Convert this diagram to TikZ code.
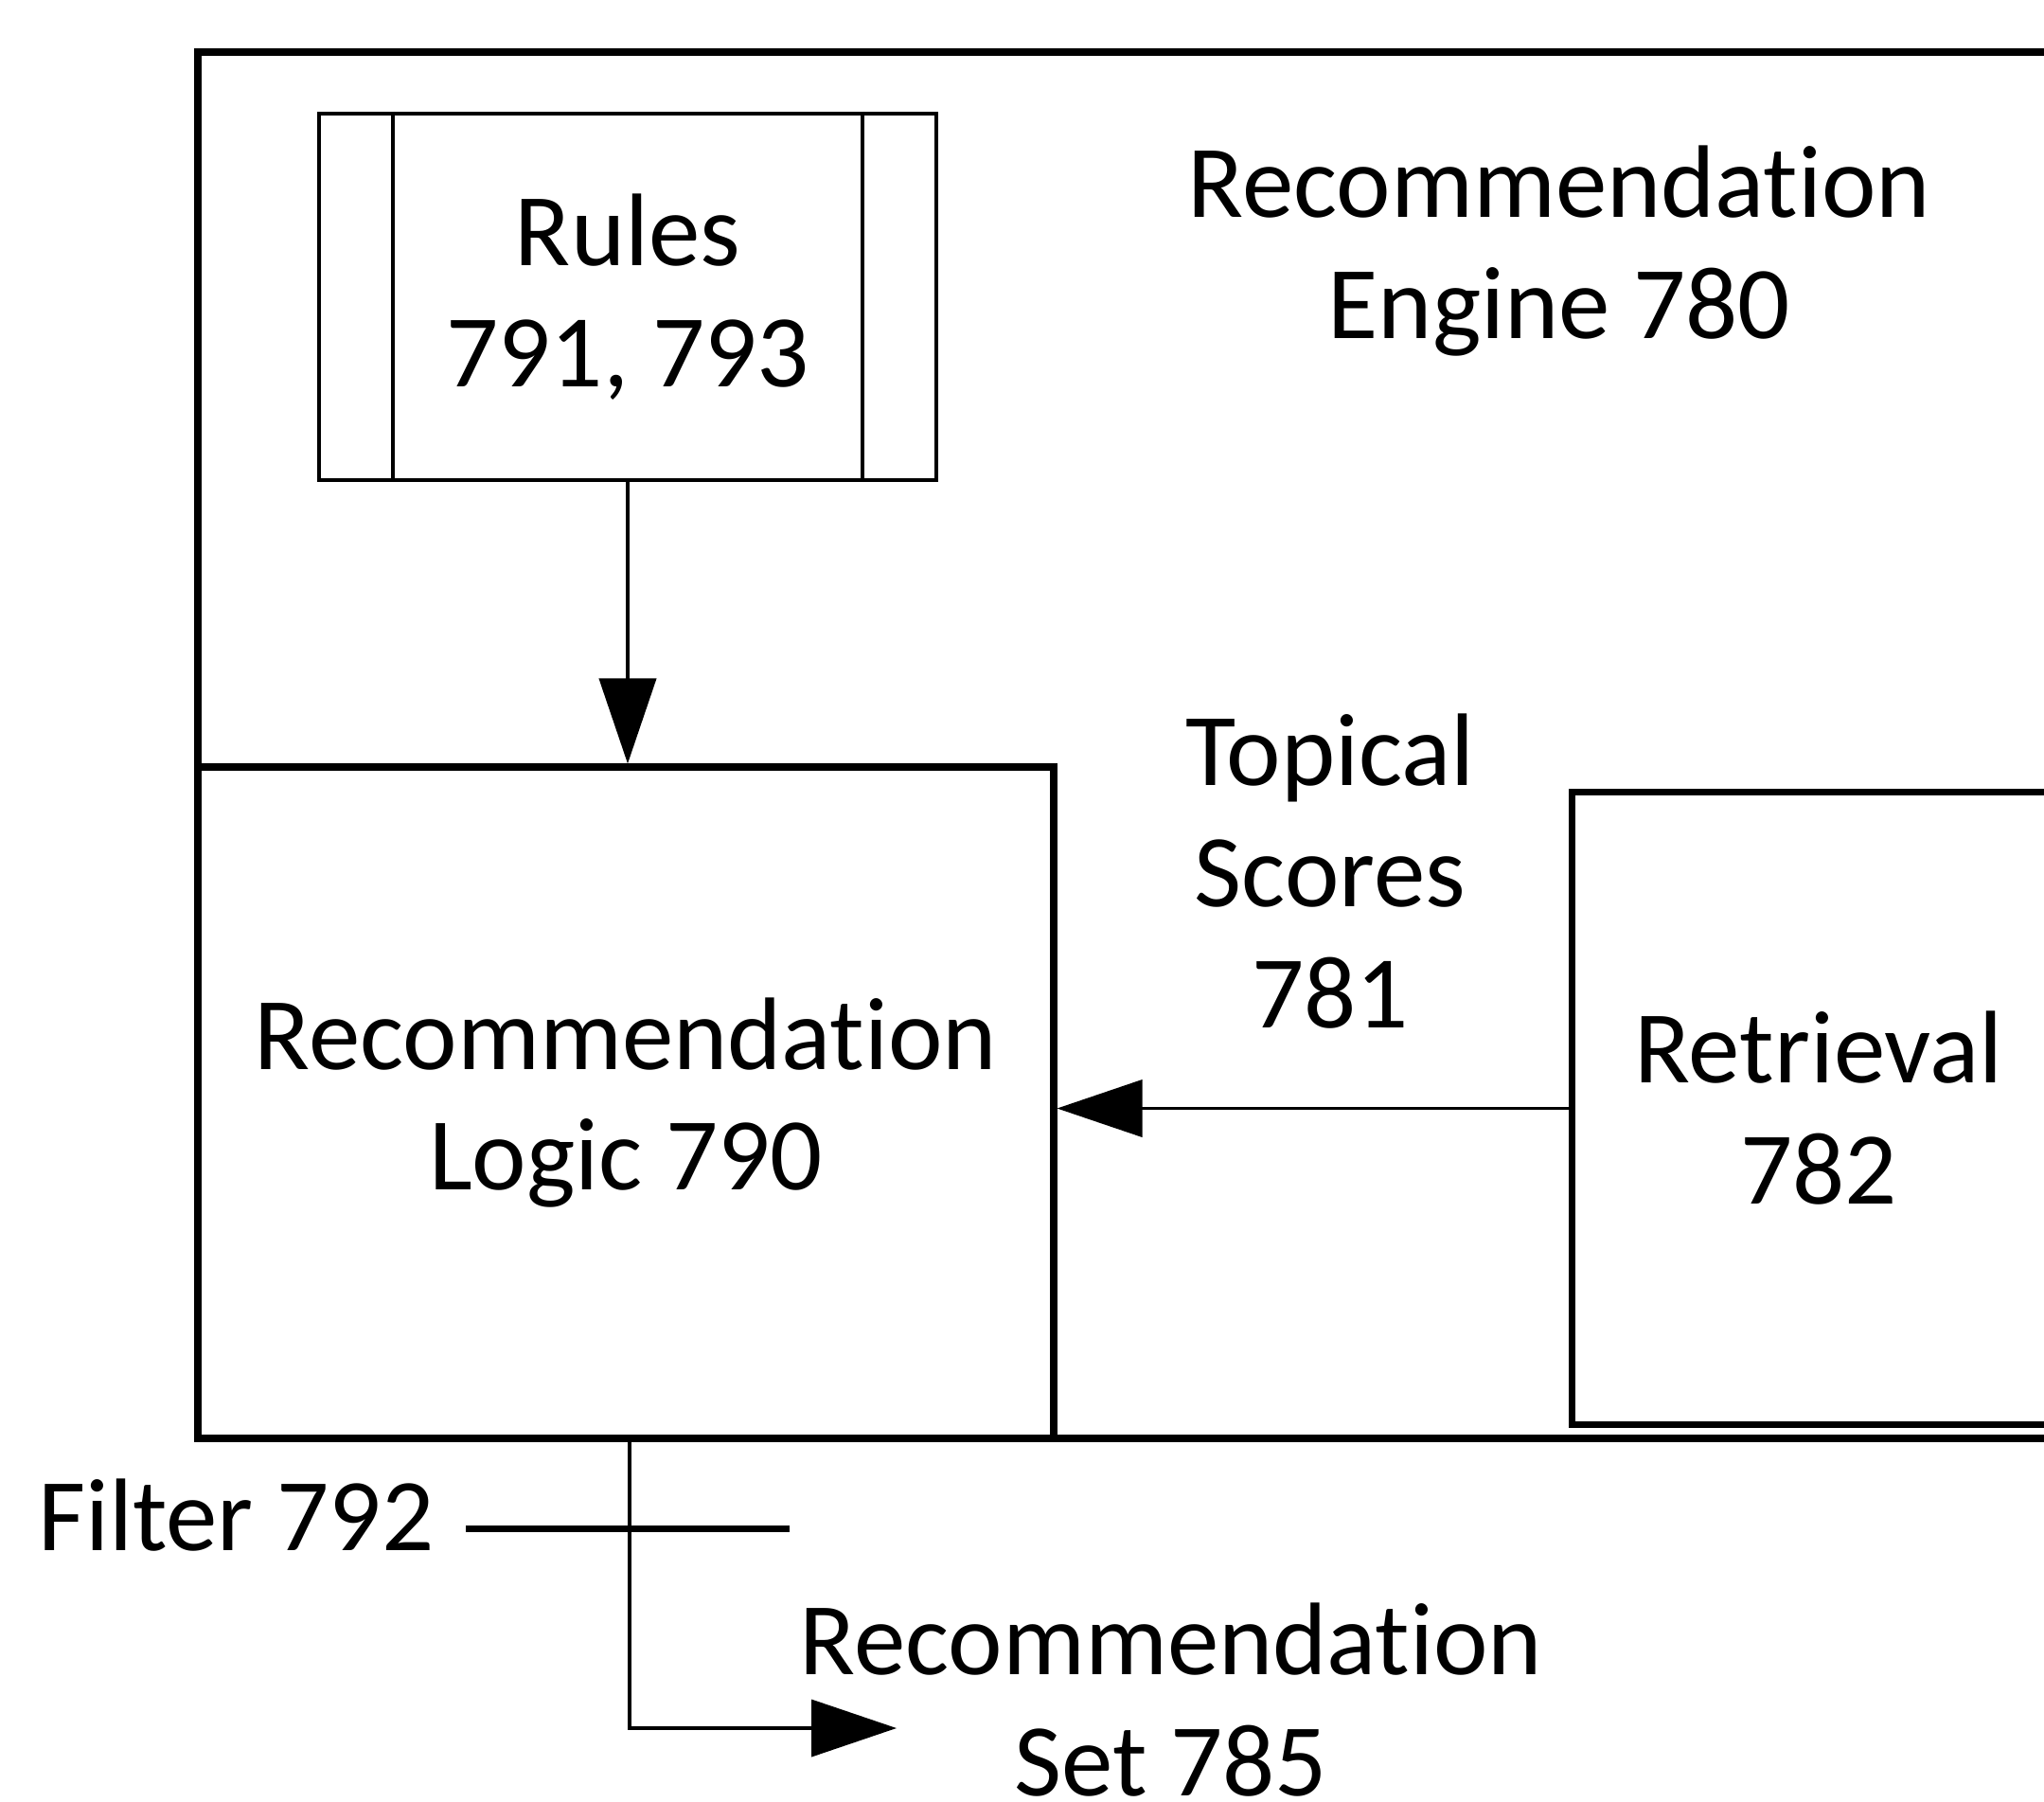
\documentclass[tikz,border=0pt]{standalone}
\usepackage{fontspec}
\setmainfont[Ligatures=NoCommon]{Carlito}
\usetikzlibrary{arrows.meta}

\begin{document}
\begin{tikzpicture}[
    txt/.style={inner sep=0pt, align=center, font=\fontsize{31}{36.4}\selectfont},
    blk/.style={draw, line width=2pt, inner sep=0pt},
    feed/.style={line width=1.1pt, -{Triangle[length=0.9cm,width=0.6cm]}}
  ]
  \useasboundingbox (0,0) rectangle (21.59,-19.02);
  \clip (0,0) rectangle (21.59,-19.02);
  %\draw[very thin,color=gray,step=1] (0,-19) grid (21,0);
  \draw[line width=2.3pt] (2.09,-0.55) rectangle (23,-15.19);
  \node[txt] (engine) at (16.47,-2.65) {Recommendation\\Engine 780};
  \node[blk, txt, line width=1.2pt, minimum width=6.52cm, minimum height=3.87cm] (rules) at (6.63,-3.135) {Rules\\791, 793};
  \draw[line width=1.2pt] ([xshift=0.8cm]rules.north west) -- ([xshift=0.8cm]rules.south west);
  \draw[line width=1.2pt] ([xshift=-0.8cm]rules.north east) -- ([xshift=-0.8cm]rules.south east);
  \node[blk, txt, minimum width=9.04cm, minimum height=7.09cm] (logic) at (6.61,-11.645) {Recommendation\\Logic 790};
  \node[blk, minimum width=6.43cm, minimum height=6.68cm, anchor=north west] (retrieval) at (16.57,-8.33) {};
  \node[txt] (retrievaltext) at (19.21,-11.70) {Retrieval\\782};
  \node[txt] (scores) at (14.05,-9.20) {Topical\\Scores\\781};
  \draw[feed] (rules.south) -- (rules.south |- logic.north);
  \draw[feed] (retrieval.west) -- (retrieval.west -| logic.east);
  \node[txt, anchor=east] (filter) at (4.59,-16.0) {Filter 792};
  \coordinate (filterend) at (8.34,-16.14);
  \draw[line width=2pt] (filter.east) ++(0.33,-0.14) -- (filterend);
  \coordinate (setend) at (9.47,-18.25);
  \draw[feed] ([xshift=0.04cm]logic.south) |- (setend);
  \node[txt] (set) at (12.37,-17.95) {Recommendation\\Set 785};
\end{tikzpicture}
\end{document}
